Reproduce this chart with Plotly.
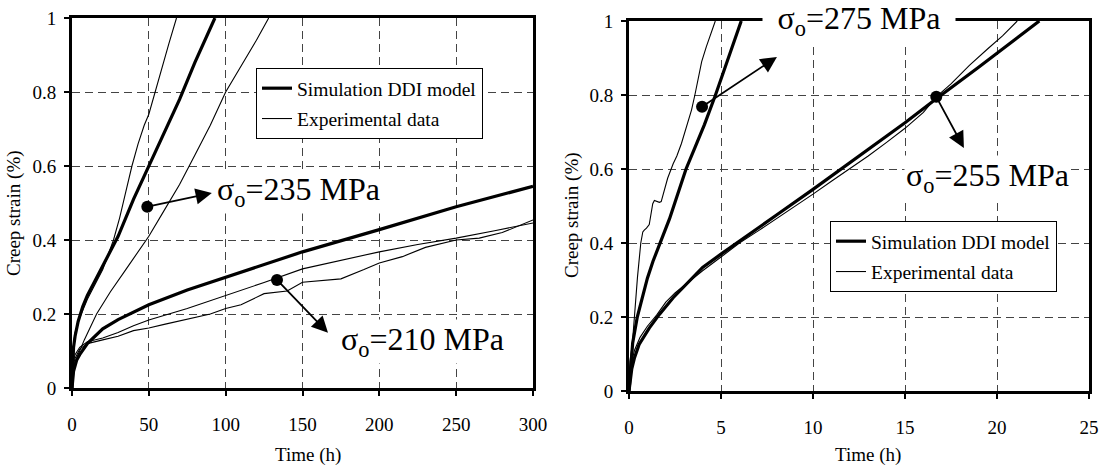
import plotly.graph_objects as go

# ---------------- data: left panel (time in h, creep strain in %) ----------------
t235_sim = [0, 0.5, 1, 2, 4, 7, 10, 15, 20, 25, 30, 40, 50, 60, 70, 80, 93]
y235_sim = [0, 0.08, 0.11, 0.14, 0.18, 0.22, 0.25, 0.29, 0.33, 0.37, 0.41, 0.51, 0.60, 0.69, 0.78, 0.88, 1.0]

t235_expA = [0, 0.5, 2, 5, 10, 15, 20, 27, 31, 35, 39, 43, 47, 50, 52, 54, 58, 63, 68]
y235_expA = [0.02, 0.10, 0.15, 0.19, 0.24, 0.28, 0.32, 0.40, 0.46, 0.53, 0.60, 0.66, 0.71, 0.74, 0.77, 0.80, 0.86, 0.93, 1.0]

t235_expB = [0, 3, 8, 16, 25, 35, 50, 60, 70, 80, 90, 100, 110, 120, 128]
y235_expB = [0.05, 0.08, 0.13, 0.20, 0.26, 0.32, 0.41, 0.48, 0.55, 0.63, 0.71, 0.80, 0.87, 0.94, 1.0]

t210_sim = [0, 1, 3, 5, 10, 20, 30, 50, 75, 100, 125, 150, 200, 250, 300]
y210_sim = [0, 0.045, 0.075, 0.09, 0.12, 0.16, 0.185, 0.225, 0.265, 0.30, 0.335, 0.368, 0.428, 0.49, 0.545]

t210_expA = [0, 2, 5, 10, 20, 30, 40, 50, 75, 100, 125, 150, 175, 200, 225, 250, 275, 300]
y210_expA = [0.06, 0.09, 0.11, 0.125, 0.135, 0.15, 0.168, 0.184, 0.215, 0.249, 0.285, 0.322, 0.345, 0.368, 0.388, 0.405, 0.425, 0.446]

t210_expB = [0, 2, 5, 10, 20, 30, 40, 50, 60, 75, 90, 100, 110, 125, 140, 150, 160, 175, 190, 200, 215, 230, 250, 265, 280, 300]
y210_expB = [0.05, 0.08, 0.105, 0.12, 0.13, 0.14, 0.155, 0.162, 0.172, 0.185, 0.20, 0.215, 0.225, 0.255, 0.262, 0.286, 0.29, 0.295, 0.32, 0.338, 0.355, 0.38, 0.40, 0.405, 0.42, 0.454]

# ---------------- data: right panel ----------------
t275_sim = [0, 0.1, 0.2, 0.45, 0.7, 1.0, 1.3, 1.75, 2.2, 2.6, 3.1, 3.6, 4.1, 4.7, 5.4, 6.1]
y275_sim = [0, 0.08, 0.13, 0.20, 0.25, 0.305, 0.35, 0.41, 0.465, 0.525, 0.60, 0.66, 0.72, 0.80, 0.90, 1.0]

t275_exp = [0, 0.05, 0.18, 0.28, 0.46, 0.64, 0.75, 0.83, 0.95, 1.1, 1.2, 1.29, 1.38, 1.5, 1.65, 1.75, 1.85, 1.93,
            2.1, 2.4, 2.6, 2.85, 3.1, 3.4, 3.58, 3.75, 3.95, 4.2, 4.45, 4.69]
y275_exp = [0.03, 0.08, 0.126, 0.20, 0.307, 0.40, 0.43, 0.435, 0.44, 0.45, 0.48, 0.506, 0.515, 0.512, 0.51, 0.512, 0.53, 0.54,
            0.575, 0.614, 0.635, 0.669, 0.71, 0.76, 0.80, 0.84, 0.89, 0.93, 0.965, 1.0]

t255_sim = [0, 0.15, 0.3, 0.55, 1.1, 1.65, 2.4, 3.1, 4, 5, 6.4, 8, 10, 12.5, 15, 16.7, 19, 22.3]
y255_sim = [0, 0.06, 0.09, 0.126, 0.17, 0.207, 0.252, 0.289, 0.334, 0.37, 0.42, 0.475, 0.545, 0.635, 0.725, 0.79, 0.875, 1.0]

t255_exp = [0, 0.1, 0.3, 0.6, 1, 1.5, 2, 2.5, 3, 4, 5, 6, 7, 8, 9, 10, 11, 12, 13, 14, 15, 16, 16.7, 17.5, 18.5, 19.5, 20.3, 21.1]
y255_exp = [0.0, 0.07, 0.11, 0.145, 0.175, 0.205, 0.24, 0.265, 0.285, 0.325, 0.362, 0.4, 0.432, 0.465, 0.498, 0.532, 0.567, 0.6,
            0.635, 0.672, 0.71, 0.753, 0.795, 0.83, 0.88, 0.925, 0.96, 1.0]

# annotation markers (dot position, arrow head position, label position) in data units
lbl_235 = dict(dot=(49, 0.49), head=(91, 0.527), text=(147.7, 0.532), label="σ<sub>o</sub>=235 MPa")
lbl_210 = dict(dot=(133.4, 0.292), head=(166.6, 0.149), text=(228.4, 0.127), label="σ<sub>o</sub>=210 MPa")
lbl_275 = dict(dot=(3.97, 0.768), head=(8.04, 0.903), text=(12.5, 0.999), label="σ<sub>o</sub>=275 MPa")
lbl_255 = dict(dot=(16.7, 0.795), head=(18.2, 0.657), text=(19.5, 0.578), label="σ<sub>o</sub>=255 MPa")

SERIF = '"Liberation Serif", "Times New Roman", Times, serif'
W, H = 1106, 470
THICK, THIN = 3.2, 1.1

fig = go.Figure()

def add_line(t, y, xa, ya, width, name=None, legend=None, group=None):
    fig.add_trace(go.Scatter(x=t, y=y, mode="lines", xaxis=xa, yaxis=ya,
                             line=dict(color="black", width=width),
                             name=name or "", showlegend=name is not None,
                             legend=legend or "legend", legendgroup=group, hoverinfo="skip"))

# left panel
add_line(t235_sim, y235_sim, "x", "y", THICK, "Simulation DDI model", "legend", "sim")
add_line(t235_expA, y235_expA, "x", "y", THIN, "Experimental data", "legend", "exp")
add_line(t235_expB, y235_expB, "x", "y", THIN)
add_line(t210_sim, y210_sim, "x", "y", THICK)
add_line(t210_expA, y210_expA, "x", "y", THIN)
add_line(t210_expB, y210_expB, "x", "y", THIN)
# right panel
add_line(t255_sim, y255_sim, "x2", "y2", THICK, "Simulation DDI model", "legend2", "sim2")
add_line(t255_exp, y255_exp, "x2", "y2", THIN, "Experimental data", "legend2", "exp2")
add_line(t275_sim, y275_sim, "x2", "y2", THICK)
add_line(t275_exp, y275_exp, "x2", "y2", THIN)

annotations = []
for lbl, xa, ya in [(lbl_235, "x", "y"), (lbl_210, "x", "y"), (lbl_275, "x2", "y2"), (lbl_255, "x2", "y2")]:
    fig.add_trace(go.Scatter(x=[lbl["dot"][0]], y=[lbl["dot"][1]], mode="markers", xaxis=xa, yaxis=ya,
                             marker=dict(color="black", size=12), showlegend=False, hoverinfo="skip"))
    ann = dict(x=lbl["text"][0], y=lbl["text"][1], xref=xa, yref=ya, text=lbl["label"],
               showarrow=False, bgcolor="white", borderpad=1,
               font=dict(family=SERIF, size=32, color="black"))
    if lbl is lbl_275:
        ann["width"] = 190
        ann["yshift"] = 1
    annotations.append(ann)
for lbl, xa, ya in [(lbl_235, "x", "y"), (lbl_210, "x", "y"), (lbl_275, "x2", "y2"), (lbl_255, "x2", "y2")]:
    annotations.append(dict(x=lbl["head"][0], y=lbl["head"][1], ax=lbl["dot"][0], ay=lbl["dot"][1],
                            xref=xa, yref=ya, axref=xa, ayref=ya, text="", showarrow=True,
                            arrowhead=2, arrowsize=1.8, arrowwidth=1.8, arrowcolor="black", standoff=0))

# axis titles
for cx, cy, txt, ang in [(308, 455, "Time (h)", 0), (868, 455, "Time (h)", 0),
                         (14, 213, "Creep strain (%)", -90), (572, 215, "Creep strain (%)", -90)]:
    annotations.append(dict(x=cx / W, y=1 - cy / H, xref="paper", yref="paper", text=txt, showarrow=False,
                            textangle=ang, xanchor="center", yanchor="middle",
                            font=dict(family=SERIF, size=19, color="black")))

axis_common = dict(showgrid=True, gridcolor="#444", gridwidth=1, griddash="8px,5px",
                   showline=True, mirror=True, linecolor="black", linewidth=3,
                   ticks="outside", ticklen=5, tickwidth=1.5, tickcolor="black",
                   tickfont=dict(family=SERIF, size=19, color="black"), zeroline=False,
                   fixedrange=True, automargin=False)

legend_common = dict(xanchor="left", yanchor="top", bgcolor="white",
                     bordercolor="black", borderwidth=1, itemwidth=30, tracegroupgap=2,
                     font=dict(family=SERIF, size=19.5, color="black"))

fig.update_layout(
    width=W, height=H, margin=dict(l=0, r=0, t=0, b=0, pad=0), autosize=False,
    paper_bgcolor="white", plot_bgcolor="white",
    font=dict(family=SERIF, color="black"),
    xaxis=dict(axis_common, domain=[72 / W, 533 / W], range=[0, 300], dtick=50, anchor="y",
               ticklabelstandoff=12),
    yaxis=dict(axis_common, domain=[1 - 388 / H, 1 - 18 / H], range=[0, 1], dtick=0.2, anchor="x",
               ticklabelstandoff=4),
    xaxis2=dict(axis_common, domain=[629 / W, 1089 / W], range=[0, 25], dtick=5, anchor="y2",
                ticklabelstandoff=12),
    yaxis2=dict(axis_common, domain=[1 - 391 / H, 1 - 21 / H], range=[0, 1], dtick=0.2, anchor="x2",
                ticklabelstandoff=4),
    legend=dict(legend_common, x=256 / W, y=1 - 68 / H),
    legend2=dict(legend_common, x=830 / W, y=1 - 221 / H),
    annotations=annotations,
    showlegend=True,
)

fig.write_html("out.html")
